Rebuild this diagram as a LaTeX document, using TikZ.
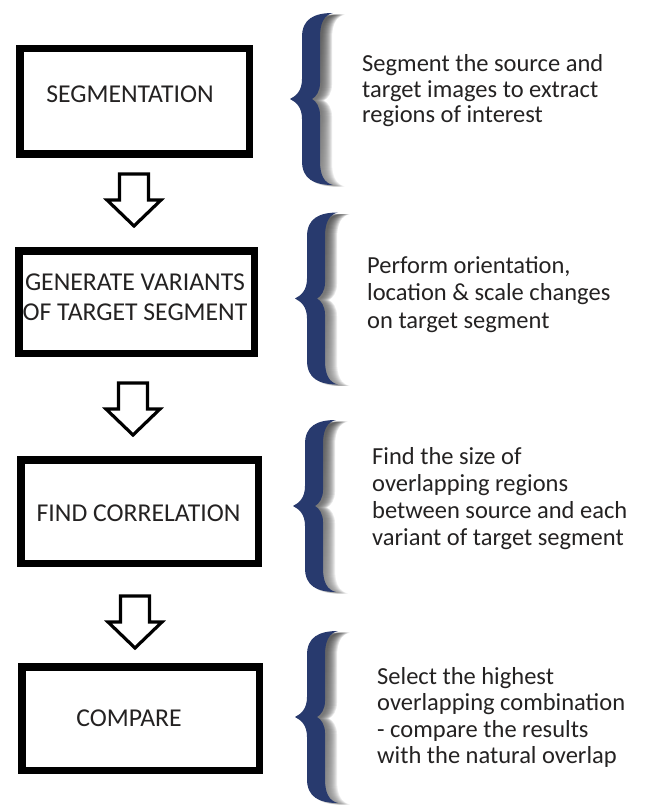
\documentclass[tikz,border=0pt]{standalone}
\usepackage{fontspec}
\setmainfont{Carlito}
\definecolor{navy}{RGB}{40,58,110}
\definecolor{shade}{RGB}{125,138,182}
\definecolor{txt}{RGB}{36,34,34}
\newcommand\twolines[2]{\vtop{\halign{\hfil##\hfil\cr #1\cr #2\cr}}}
\tikzset{
  box/.style={draw=black, line width=7.5pt, fill=white, inner sep=0pt, rectangle},
  boxlabel/.style={font=\fontsize{25.7}{30}\selectfont, text=txt, inner sep=0pt, anchor=base},
  desc/.style={text=txt, inner sep=0pt, anchor=base west},
  blockarrow/.pic={
    \draw[line width=3.2pt, fill=white, line join=miter]
      (-14.5,0) -- (14.5,0) -- (14.5,26) -- (27,26) -- (0,52) -- (-27,26) -- (-14.5,26) -- cycle;
  },
  bracepic/.pic={
    \foreach \d in {2,3,...,12} {
      \fill[shade, opacity=0.075, shift={(\d,1.5)}]
        (43,-86) .. controls (24,-86) and (12,-80) .. (12,-62) -- (12,-20)
        .. controls (12,-8) and (6,-3) .. (0,0)
        .. controls (6,3) and (12,8) .. (12,20) -- (12,62)
        .. controls (12,80) and (24,86) .. (43,86)
        .. controls (34,84) and (30,76) .. (30,62) -- (30,16)
        .. controls (30,8) and (26,2) .. (22,0)
        .. controls (26,-2) and (30,-8) .. (30,-16) -- (30,-62)
        .. controls (30,-76) and (34,-84) .. (43,-86) -- cycle;
    }
    \fill[navy]
        (43,-86) .. controls (24,-86) and (12,-80) .. (12,-62) -- (12,-20)
        .. controls (12,-8) and (6,-3) .. (0,0)
        .. controls (6,3) and (12,8) .. (12,20) -- (12,62)
        .. controls (12,80) and (24,86) .. (43,86)
        .. controls (34,84) and (30,76) .. (30,62) -- (30,16)
        .. controls (30,8) and (26,2) .. (22,0)
        .. controls (26,-2) and (30,-8) .. (30,-16) -- (30,-62)
        .. controls (30,-76) and (34,-84) .. (43,-86) -- cycle;
  }
}
\begin{document}
\begin{tikzpicture}[x=1pt,y=-1pt]
\useasboundingbox[fill=white] (0,0) rectangle (654,805);

% boxes
\node[box, minimum width=229.5pt, minimum height=105.5pt] (b1) at (134.5,101.5) {};
\node[box, minimum width=235.5pt, minimum height=102.5pt] (b2) at (136.5,302) {};
\node[box, minimum width=237.5pt, minimum height=103.5pt] (b3) at (139.5,511.5) {};
\node[box, minimum width=237.5pt, minimum height=103.5pt] (b4) at (140.5,718.5) {};

\node[boxlabel] (l1) at (130,103) {SEGMENTATION};
\node[boxlabel] (l2) at (135,290) {\twolines{GENERATE VARIANTS}{OF TARGET SEGMENT}};
\node[boxlabel] (l3) at (138.5,521) {FIND CORRELATION};
\node[boxlabel] (l4) at (129,726) {COMPARE};

% block arrows between boxes
\coordinate (a1) at (134,174);
\coordinate (a2) at (133,383);
\coordinate (a3) at (135,596);
\pic at (a1) {blockarrow};
\pic at (a2) {blockarrow};
\pic at (a3) {blockarrow};

% braces
\pic at (290,99) {bracepic};
\pic at (295,298.5) {bracepic};
\pic at (293,506) {bracepic};
\pic at (295,717) {bracepic};

% descriptions
\node[desc, font=\fontsize{24.5}{25.5}\selectfont] (r1) at (362,72)
  {\vtop{\hbox{Segment the source and}\hbox{target images to extract}\hbox{regions of interest}}};
\node[desc, font=\fontsize{24.5}{27.5}\selectfont] (r2) at (367,273)
  {\vtop{\hbox{Perform orientation,}\hbox{location \& scale changes}\hbox{on target segment}}};
\node[desc, font=\fontsize{24.5}{27}\selectfont] (r3) at (372,464)
  {\vtop{\hbox{Find the size of}\hbox{overlapping regions}\hbox{between source and each}\hbox{variant of target segment}}};
\node[desc, font=\fontsize{24.5}{26.5}\selectfont] (r4) at (377,684)
  {\vtop{\hbox{Select the highest}\hbox{overlapping combination}\hbox{- compare the results}\hbox{with the natural overlap}}};
\end{tikzpicture}
\end{document}
